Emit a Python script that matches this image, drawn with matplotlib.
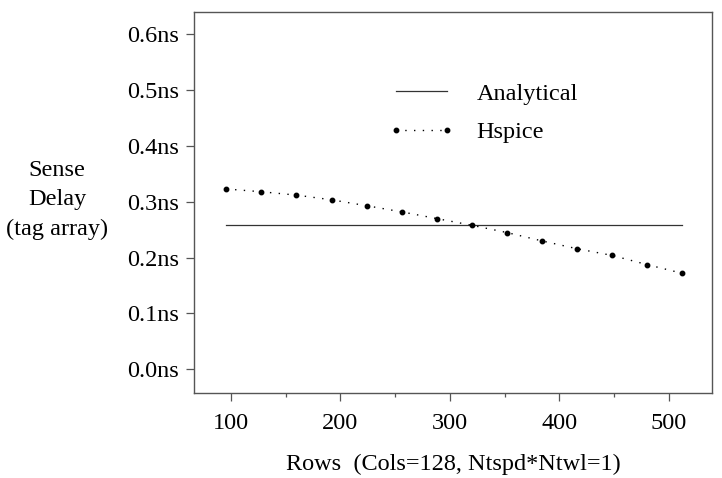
import matplotlib
matplotlib.use("Agg")
import matplotlib.pyplot as plt
from matplotlib.ticker import MultipleLocator, FuncFormatter

# data
rows = [96, 128, 160, 192, 224, 256, 288, 320, 352, 384, 416, 448, 480, 512]
hspice = [0.323, 0.318, 0.312, 0.3036, 0.293, 0.282, 0.270, 0.258,
          0.245, 0.230, 0.216, 0.204, 0.1875, 0.172]
analytical_rows = [96, 512]
analytical = [0.258, 0.258]

plt.rcParams["font.family"] = ["Liberation Serif", "DejaVu Serif"]
plt.rcParams["font.size"] = 17.5

fig = plt.figure(figsize=(7.22, 4.78), dpi=100)
ax = fig.add_axes([194 / 722, 1 - 393.3 / 478, 518 / 722, 381.3 / 478])

ax.plot(analytical_rows, analytical, color="#333333", lw=0.9, label="Analytical")
ax.plot(rows, hspice, color="black", lw=1.0, ls=(0, (1, 5.3)),
        marker="o", ms=3.2, label="Hspice")

ax.set_xlim(66.5, 539.2)
ax.set_ylim(-0.043, 0.640)
ax.xaxis.set_major_locator(MultipleLocator(100))
ax.xaxis.set_minor_locator(MultipleLocator(50))
ax.yaxis.set_major_formatter(FuncFormatter(lambda v, p: f"{v:.1f}ns"))
ax.set_yticks([0, 0.1, 0.2, 0.3, 0.4, 0.5, 0.6])
ax.tick_params(axis="both", which="major", length=6, width=0.9, color="#555555", pad=5)
ax.tick_params(axis="x", which="major", pad=8)
ax.tick_params(axis="x", which="minor", length=3, width=0.9, color="#555555")
for s in ax.spines.values():
    s.set_color("#555555")
    s.set_linewidth(1.0)

fig.text(57 / 722, 1 - 200 / 478, "Sense\nDelay\n(tag array)", ha="center", va="center",
         linespacing=1.55)
fig.text(453 / 722, 1 - 464 / 478, "Rows  (Cols=128, Ntspd*Ntwl=1)", ha="center",
         va="center")

ax.legend(loc="upper left", bbox_to_anchor=(0.376, 0.814), frameon=False, borderpad=0,
          borderaxespad=0, handlelength=2.7, handletextpad=0.92, labelspacing=0.68,
          numpoints=2)

fig.savefig("out.png", dpi=100)
